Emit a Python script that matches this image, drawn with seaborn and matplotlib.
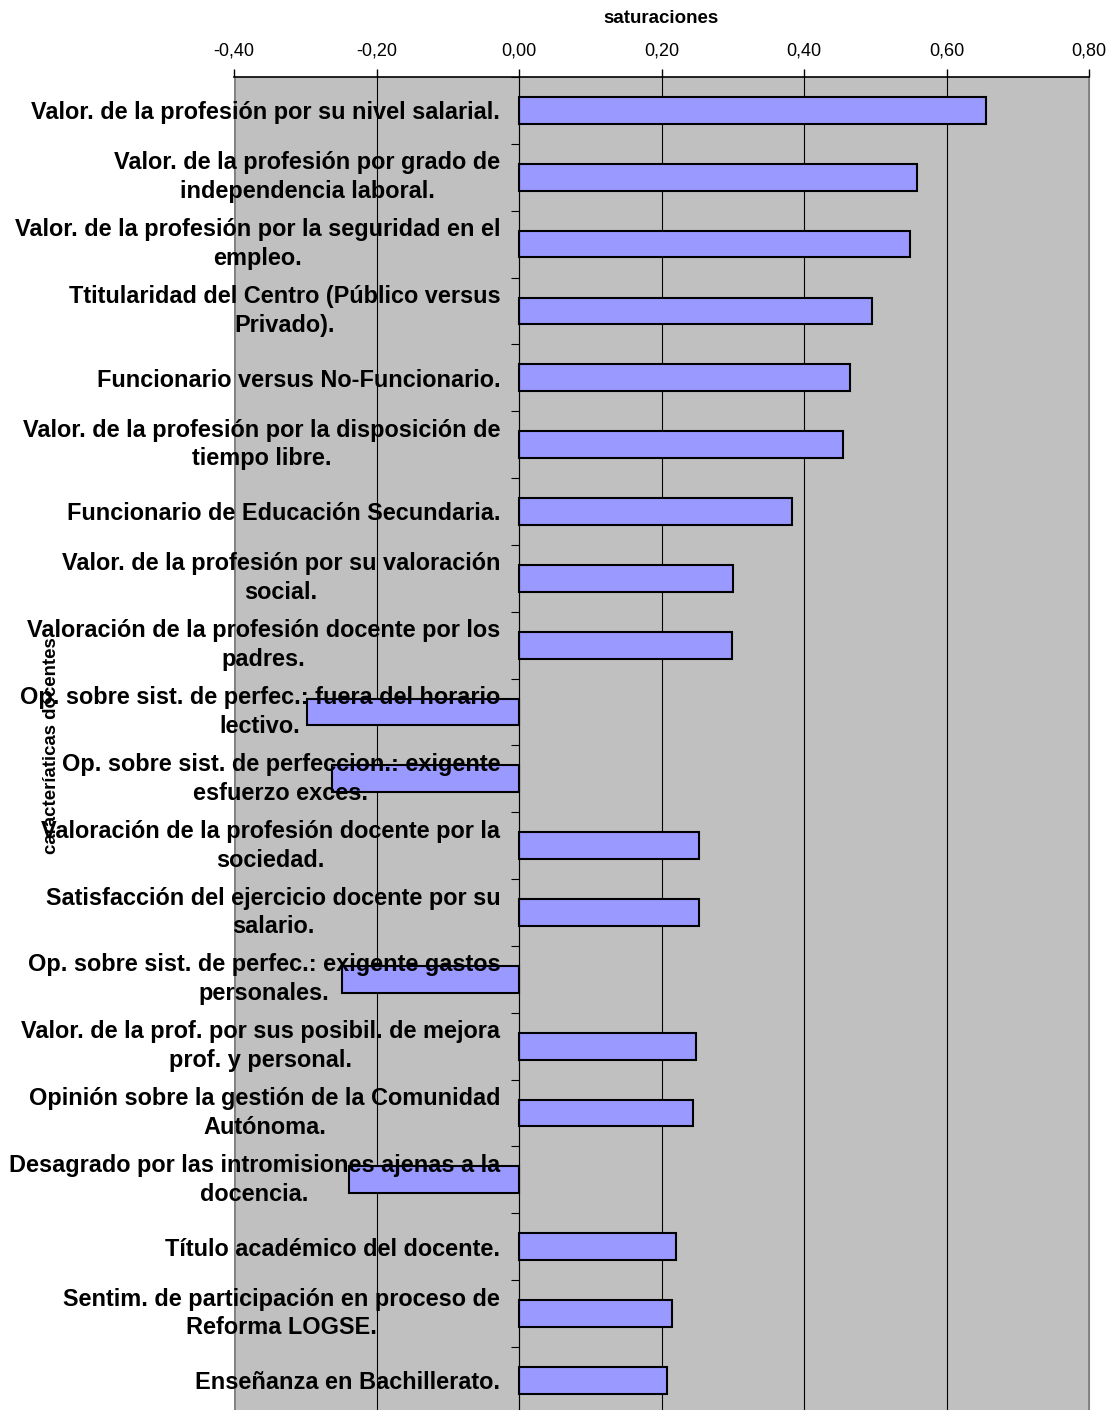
import matplotlib
matplotlib.use("Agg")
import matplotlib.pyplot as plt
import seaborn as sns
import pandas as pd
from matplotlib.ticker import FixedLocator, FuncFormatter

categories = [
    "Valor. de la profesión por su nivel salarial.",
    "Valor. de la profesión por grado de\nindependencia laboral.",
    "Valor. de la profesión por la seguridad en el\nempleo.",
    "Ttitularidad del Centro (Público versus\nPrivado).",
    "Funcionario versus No-Funcionario.",
    "Valor. de la profesión por la disposición de\ntiempo libre.",
    "Funcionario de Educación Secundaria.",
    "Valor. de la profesión por su valoración\nsocial.",
    "Valoración de la profesión docente por los\npadres.",
    "Op. sobre sist. de perfec.: fuera del horario\nlectivo.",
    "Op. sobre sist. de perfeccion.: exigente\nesfuerzo exces.",
    "Valoración de la profesión docente por la\nsociedad.",
    "Satisfacción del ejercicio docente por su\nsalario.",
    "Op. sobre sist. de perfec.: exigente gastos\npersonales.",
    "Valor. de la prof. por sus posibil. de mejora\nprof. y personal.",
    "Opinión sobre la gestión de la Comunidad\nAutónoma.",
    "Desagrado por las intromisiones ajenas a la\ndocencia.",
    "Título académico del docente.",
    "Sentim. de participación en proceso de\nReforma LOGSE.",
    "Enseñanza en Bachillerato.",
]
saturaciones = [0.656, 0.559, 0.549, 0.495, 0.464, 0.455, 0.383, 0.300, 0.299,
                -0.298, -0.262, 0.252, 0.252, -0.248, 0.248, 0.244, -0.239,
                0.221, 0.215, 0.208]
x_ticks = [-0.4, -0.2, 0.0, 0.2, 0.4, 0.6, 0.8]

sns.set_style("white")
plt.rcParams['font.family'] = ['Liberation Sans', 'DejaVu Sans']
plt.rcParams['text.color'] = 'black'
plt.rcParams['axes.labelcolor'] = 'black'
plt.rcParams['xtick.color'] = 'black'
plt.rcParams['ytick.color'] = 'black'

df = pd.DataFrame({"cat": categories, "val": saturaciones})

fig = plt.figure(figsize=(11.19, 14.10), dpi=100)
W, H = 1119, 1410
left, right, top, bottom = 234, 1089, 77, 1413.8
ax = fig.add_axes([left / W, 1 - bottom / H, (right - left) / W, (bottom - top) / H])

sns.barplot(data=df, x="val", y="cat", orient="h", ax=ax, color="#9999FF",
            saturation=1, width=0.4, edgecolor="black", linewidth=1.5)
for p in ax.patches:
    p.set_facecolor("#9999FF")
    p.set_zorder(2)

ax.set_facecolor("#C0C0C0")
ax.set_xlim(-0.4, 0.8)
ax.set_ylim(len(categories) - 0.5, -0.5)

# x axis on top
ax.xaxis.set_major_locator(FixedLocator(x_ticks))
ax.xaxis.set_major_formatter(FuncFormatter(lambda v, p: f"{v:.2f}".replace(".", ",").replace("-0,00", "0,00")))
ax.xaxis.tick_top()
ax.xaxis.set_label_position("top")
ax.tick_params(axis="x", which="major", direction="out", length=6, width=1,
               color="black", labelcolor="black", labelsize=13, pad=6.8,
               top=True, bottom=False)
ax.set_xlabel("saturaciones", fontsize=13.5, fontweight="bold", labelpad=14.2,
              color="black")

# grid
ax.grid(axis="x", color="black", linewidth=0.8)
ax.grid(axis="y", visible=False)
ax.set_axisbelow(True)
ax.yaxis.set_zorder(3)
ax.axvline(-0.4, color="#808080", linewidth=2, zorder=1)
ax.axvline(0.8, color="#808080", linewidth=2, zorder=1)

# spines
ax.spines["left"].set_position(("data", 0))
ax.spines["left"].set_color("black")
ax.spines["left"].set_linewidth(0.8)
ax.spines["left"].set_zorder(2.5)
ax.spines["top"].set_visible(True)
ax.spines["top"].set_color("black")
ax.spines["top"].set_linewidth(1.2)
ax.spines["right"].set_visible(True)
ax.spines["right"].set_color("#808080")
ax.spines["bottom"].set_visible(False)

# y ticks: labels at centers, tick marks at boundaries
n = len(categories)
ax.yaxis.set_minor_locator(FixedLocator([i + 0.5 for i in range(-1, n)]))
ax.tick_params(axis="y", which="major", length=0, pad=13.5, labelsize=16.9,
               labelcolor="black")
ax.tick_params(axis="y", which="minor", direction="out", length=5.5, width=0.8,
               color="black", left=True)
for lab in ax.get_yticklabels():
    lab.set_fontweight("bold")
    lab.set_multialignment("center")
    lab.set_linespacing(1.32)
    lab.set_color("black")
    if "\n" in lab.get_text():
        lab.set_verticalalignment("center")
    else:
        lab.set_verticalalignment("center_baseline")

ax.set_ylabel("caracteríaticas docentes", fontsize=13.4, fontweight="bold",
              color="black")
ax.yaxis.set_label_coords((60 - left) / (right - left), 0.5)

fig.savefig("out.png", dpi=100)
